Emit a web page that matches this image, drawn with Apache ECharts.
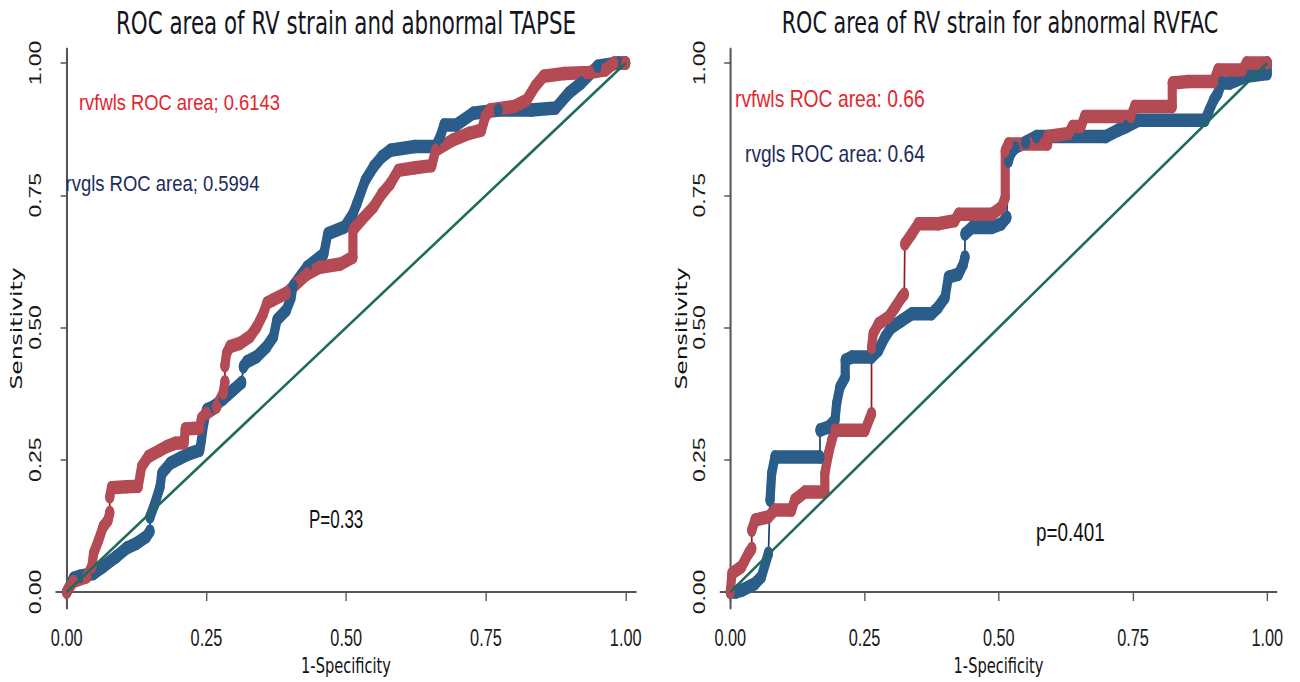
<!DOCTYPE html>
<html><head><meta charset="utf-8">
<script src="https://cdn.jsdelivr.net/npm/echarts@6/dist/echarts.min.js"></script>
<style>
html,body{margin:0;padding:0;background:#fff;overflow:hidden;width:1300px;height:682px;}
#wrap{width:1300px;height:682px;overflow:hidden;position:relative;}
#chart{width:1912px;height:682px;transform:scaleX(0.679916);transform-origin:0 0;position:absolute;left:0;top:0;}
</style></head><body><div id="wrap"><div id="chart"></div></div>
<script>
// ---- data ----
const tickValues = [0, 0.25, 0.5, 0.75, 1];
const tickLabels = ['0.00', '0.25', '0.50', '0.75', '1.00'];
const titles = ['ROC area of RV strain and abnormal TAPSE', 'ROC area of RV strain for abnormal RVFAC'];
const xName = '1-Specificity';
const yName = 'Sensitivity';
const refLine = [[0, 0], [1, 1]];

// TAPSE panel: rvfwls (red) and rvgls (blue); null = thin connecting jump
const tapseFwls = [[0,0],[0.012,0.02],[0.036,0.029],[0.045,0.048],[0.048,0.073],[0.057,0.098],[0.065,0.123],[0.074,0.136],[0.077,0.15],null,
[0.077,0.18],[0.08,0.197],[0.107,0.199],[0.128,0.2],[0.134,0.237],[0.146,0.256],[0.167,0.268],[0.179,0.275],[0.194,0.281],[0.21,0.282],[0.212,0.308],[0.238,0.31],[0.241,0.328],[0.25,0.338],[0.268,0.35],[0.28,0.376],[0.283,0.397],null,
[0.283,0.428],[0.286,0.451],[0.292,0.464],[0.31,0.47],[0.328,0.483],[0.34,0.501],[0.352,0.527],[0.358,0.546],[0.369,0.552],[0.393,0.565],[0.43,0.601],[0.453,0.614],[0.49,0.62],[0.512,0.633],[0.512,0.684],[0.527,0.703],[0.549,0.728],[0.564,0.753],[0.579,0.772],[0.593,0.797],[0.623,0.802],[0.653,0.806],[0.66,0.835],[0.69,0.854],[0.72,0.867],[0.742,0.873],[0.749,0.899],[0.757,0.911],[0.801,0.918],[0.823,0.93],[0.838,0.956],[0.853,0.975],[0.89,0.98],[0.935,0.982],[0.964,0.987],[0.979,1],[1,1]];
const tapseGls = [[0,0],[0.012,0.026],[0.024,0.03],[0.048,0.035],[0.065,0.048],[0.089,0.067],[0.107,0.083],[0.125,0.092],[0.143,0.105],[0.149,0.115],null,
[0.149,0.142],[0.158,0.168],[0.167,0.199],[0.17,0.224],[0.185,0.243],[0.203,0.253],[0.221,0.262],[0.238,0.268],[0.241,0.287],[0.245,0.318],[0.25,0.344],[0.262,0.35],[0.28,0.365],[0.298,0.382],[0.313,0.396],null,
[0.316,0.426],[0.322,0.435],[0.34,0.445],[0.358,0.464],[0.37,0.483],[0.376,0.514],[0.393,0.533],[0.401,0.555],[0.405,0.578],[0.43,0.614],[0.46,0.639],[0.467,0.677],[0.497,0.69],[0.512,0.715],[0.519,0.734],[0.534,0.778],[0.549,0.804],[0.564,0.823],[0.579,0.835],[0.623,0.842],[0.66,0.842],[0.668,0.86],[0.675,0.883],[0.697,0.883],[0.727,0.905],[0.772,0.911],[0.831,0.911],[0.875,0.915],[0.898,0.943],[0.92,0.962],[0.95,0.994],[0.987,1],[1,1]];

// RVFAC panel
const rvfacFwls = [[0,0],[0.003,0.035],[0.021,0.048],[0.034,0.073],[0.04,0.082],null,
[0.04,0.117],[0.046,0.136],[0.071,0.142],[0.083,0.155],[0.114,0.155],[0.12,0.174],[0.139,0.189],[0.176,0.189],[0.176,0.224],[0.183,0.262],[0.189,0.287],[0.195,0.306],[0.251,0.306],[0.263,0.337],null,
[0.263,0.462],[0.266,0.488],[0.276,0.507],[0.294,0.519],[0.307,0.538],[0.319,0.557],[0.324,0.563],null,
[0.325,0.658],[0.338,0.677],[0.35,0.696],[0.387,0.696],[0.418,0.702],[0.425,0.714],[0.487,0.714],[0.505,0.727],[0.512,0.746],[0.512,0.834],[0.518,0.847],[0.591,0.847],[0.591,0.861],[0.63,0.867],[0.637,0.88],[0.653,0.88],[0.66,0.899],[0.746,0.899],[0.753,0.918],[0.823,0.918],[0.823,0.962],[0.853,0.965],[0.9,0.965],[0.908,0.987],[0.954,0.987],[0.961,1],[1,1]];
const rvfacGls = [[0,0],[0.011,0],[0.023,0.004],[0.046,0.016],[0.058,0.029],[0.071,0.073],null,
[0.074,0.174],[0.077,0.224],[0.083,0.255],[0.167,0.255],null,
[0.167,0.306],[0.183,0.312],[0.195,0.325],[0.198,0.356],[0.204,0.387],[0.214,0.406],[0.214,0.438],[0.226,0.444],[0.263,0.444],[0.276,0.457],[0.288,0.482],[0.3,0.5],[0.319,0.513],[0.338,0.526],[0.375,0.526],[0.387,0.538],[0.4,0.557],[0.406,0.595],[0.425,0.601],[0.434,0.62],[0.437,0.633],null,
[0.437,0.677],[0.45,0.689],[0.487,0.689],[0.505,0.696],[0.515,0.708],null,
[0.518,0.815],[0.522,0.829],[0.53,0.84],[0.55,0.85],[0.57,0.861],[0.699,0.861],[0.722,0.873],[0.738,0.88],[0.761,0.892],[0.884,0.892],[0.892,0.911],[0.9,0.93],[0.908,0.943],[0.915,0.962],[0.93,0.962],[0.961,0.975],[1,0.98],[1,1]];

const notes = [
  {text: 'rvfwls ROC area; 0.6143', color: 'red'},
  {text: 'rvgls ROC area; 0.5994', color: 'navy'},
  {text: 'P=0.33', color: 'black'},
  {text: 'rvfwls ROC area: 0.66', color: 'red'},
  {text: 'rvgls ROC area: 0.64', color: 'navy'},
  {text: 'p=0.401', color: 'black'}
];

// ---- styling / layout ----
const SX = 1300 / 1912;
const X = ox => ox / SX;
const RED_BAND = '#b34a54', RED_LINE = '#8e1c26';
const BLUE_BAND = '#2b5d8b', BLUE_LINE = '#1c3d6e';
const DIAG = '#1e6b5c';
const AX = '#555555';
const textColors = {red: '#e3262e', navy: '#1d2c5c', black: '#111111'};

function xAxisCfg(i, min, max) {
  return {
    type: 'value', gridIndex: i, min: min, max: max,
    name: xName, nameLocation: 'middle', nameGap: 43,
    nameTextStyle: {fontFamily: 'DejaVu Sans', fontSize: 21.5, color: '#111'},
    axisLine: {show: true, lineStyle: {color: AX, width: 2}},
    axisTick: {show: true, length: 9, customValues: tickValues, lineStyle: {color: AX, width: 2}},
    axisLabel: {customValues: tickValues, margin: 17, fontFamily: 'Liberation Sans', fontSize: 24, color: '#1a1a1a',
      formatter: v => tickLabels[tickValues.indexOf(v)]},
    splitLine: {show: false}
  };
}
function yAxisCfg(i, gap) {
  return {
    type: 'value', gridIndex: i, min: -0.03025, max: 1.02647,
    name: yName, nameLocation: 'middle', nameGap: gap, nameRotate: 90,
    nameTextStyle: {fontFamily: 'DejaVu Sans', fontSize: 23.5, color: '#111'},
    axisLine: {show: true, lineStyle: {color: AX, width: 3}},
    axisTick: {show: true, length: 9, customValues: tickValues, lineStyle: {color: AX, width: 1.5}},
    axisLabel: {customValues: tickValues, rotate: 90, margin: 19, fontFamily: 'Liberation Sans', fontSize: 23, color: '#1a1a1a',
      formatter: v => tickLabels[tickValues.indexOf(v)]},
    splitLine: {show: false}
  };
}
function curve(pts, i, band, line, name) {
  return [
    {type: 'line', name: name, xAxisIndex: i, yAxisIndex: i, data: pts.filter(p => p !== null),
     showSymbol: false, lineStyle: {color: line, width: 2.5}, z: 2, silent: true},
    {type: 'line', name: name, xAxisIndex: i, yAxisIndex: i, data: pts, connectNulls: false,
     symbol: 'circle', symbolSize: 13.5, showSymbol: true, showAllSymbol: true,
     itemStyle: {color: band}, lineStyle: {color: band, width: 13.5, cap: 'round', join: 'round'}, z: 3, silent: true}
  ];
}
function diag(i) {
  return {type: 'line', xAxisIndex: i, yAxisIndex: i, data: refLine, showSymbol: false,
    lineStyle: {color: DIAG, width: 3}, z: 4, silent: true};
}
function note(n, ox, y, size, sx) {
  return {type: 'text', x: X(ox), y: y, scaleX: sx, z: 10,
    style: {text: n.text, font: size + 'px "Liberation Sans"', fill: textColors[n.color],
      textAlign: 'left', align: 'left', textVerticalAlign: 'middle', verticalAlign: 'middle'}};
}

const chart = echarts.init(document.getElementById('chart'), null, {renderer: 'svg'});
chart.setOption({
  animation: false,
  backgroundColor: '#ffffff',
  title: [
    {text: titles[0], left: X(346), top: 7, textAlign: 'center', padding: 0,
     textStyle: {fontFamily: 'DejaVu Sans', fontSize: 31.5, fontWeight: 'normal', color: '#14141e'}},
    {text: titles[1], left: X(1000), top: 7, textAlign: 'center', padding: 0,
     textStyle: {fontFamily: 'DejaVu Sans', fontSize: 30.5, fontWeight: 'normal', color: '#14141e'}}
  ],
  grid: [
    {left: X(56), top: 49, width: X(636) - X(56), height: 559, containLabel: false},
    {left: X(720.3), top: 49, width: X(1276.7) - X(720.3), height: 559, containLabel: false}
  ],
  xAxis: [xAxisCfg(0, -0.01915, 1.01843), xAxisCfg(1, -0.01862, 1.01751)],
  yAxis: [yAxisCfg(0, 46), yAxisCfg(1, 45)],
  series: [].concat(
    curve(tapseGls, 0, BLUE_BAND, BLUE_LINE, 'rvgls'),
    curve(tapseFwls, 0, RED_BAND, RED_LINE, 'rvfwls'),
    [diag(0)],
    curve(rvfacGls, 1, BLUE_BAND, BLUE_LINE, 'rvgls'),
    curve(rvfacFwls, 1, RED_BAND, RED_LINE, 'rvfwls'),
    [diag(1)]
  ),
  graphic: {elements: [
    note(notes[0], 79, 102, 22, 1.227),
    note(notes[1], 65.5, 183.5, 22, 1.235),
    note(notes[2], 309, 519.5, 25, 1.0),
    note(notes[3], 735, 99, 23, 1.235),
    note(notes[4], 745, 154, 23, 1.225),
    note(notes[5], 1036, 533, 25, 1.11)
  ]}
});
</script></body></html>
